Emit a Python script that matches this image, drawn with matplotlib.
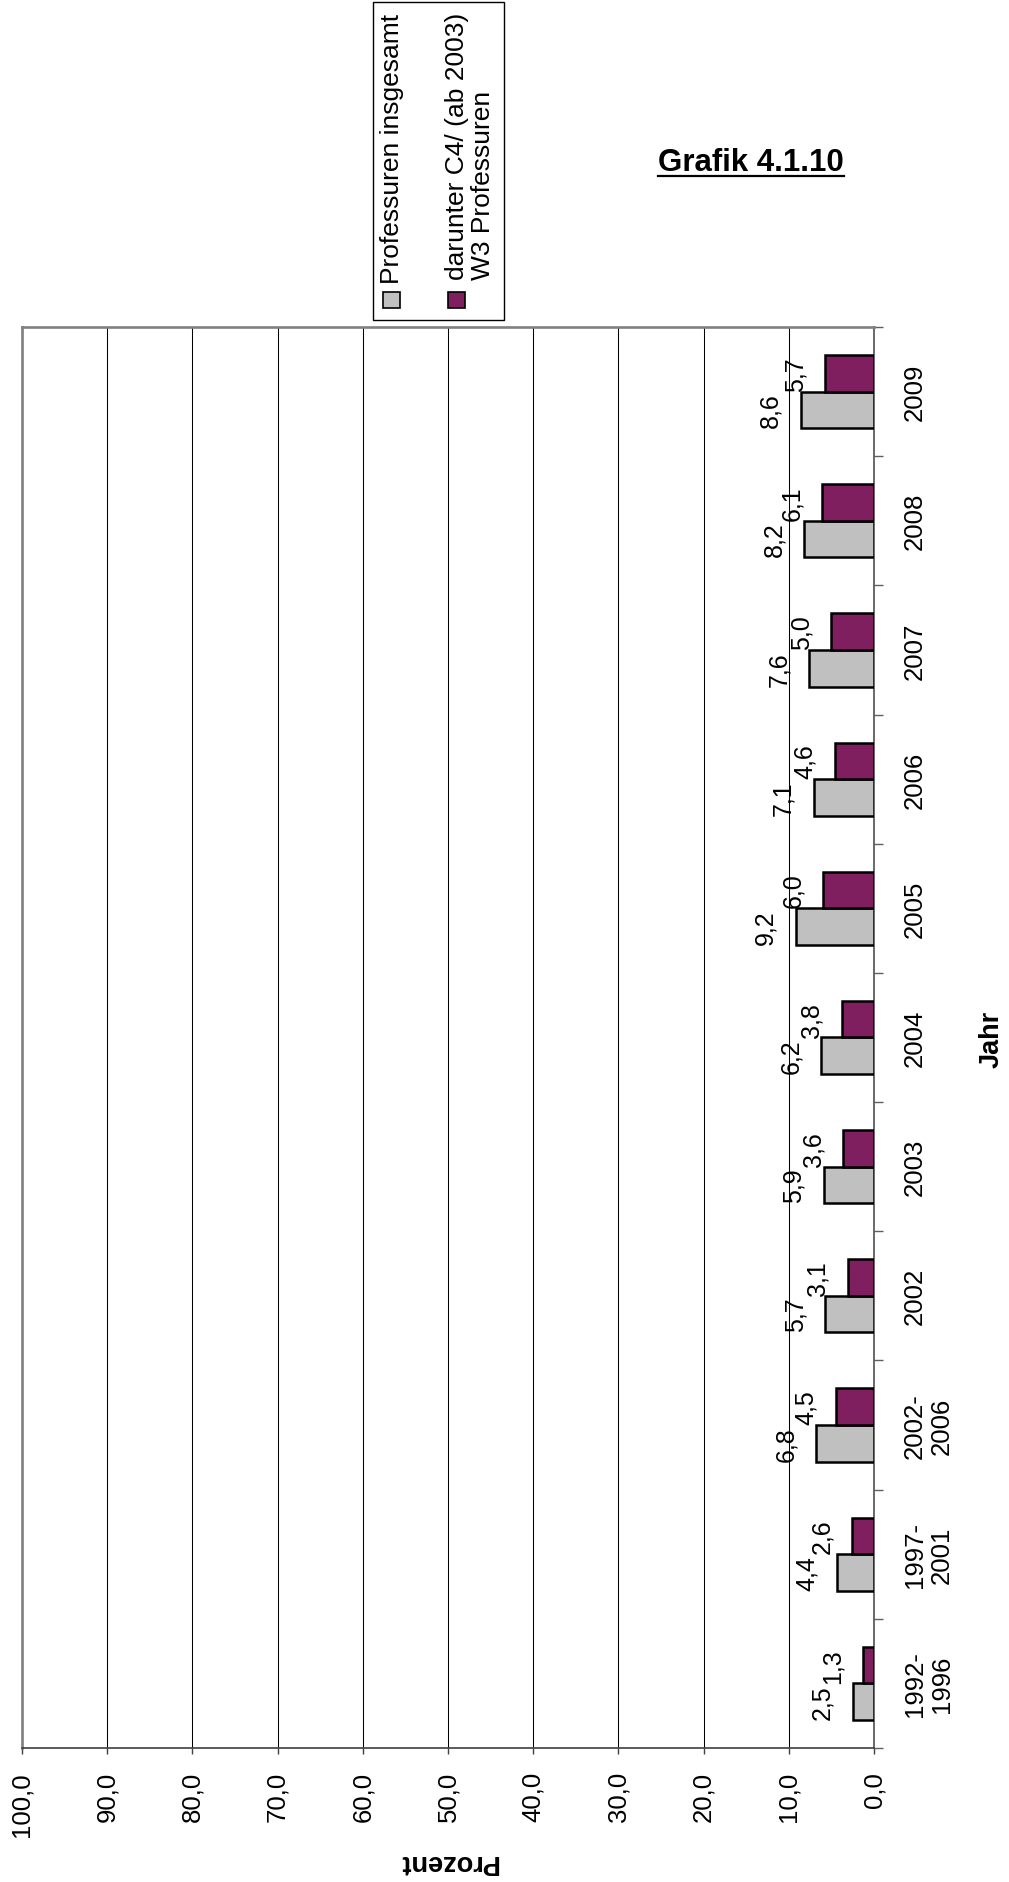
import matplotlib
matplotlib.use("Agg")
import matplotlib.pyplot as plt
import numpy as np
from matplotlib.patches import Rectangle
from matplotlib.lines import Line2D
from matplotlib.ticker import FixedLocator

plt.rcParams['font.family'] = ['Liberation Sans', 'DejaVu Sans']

categories = ["1992-\n1996", "1997-\n2001", "2002-\n2006", "2002", "2003", "2004",
              "2005", "2006", "2007", "2008", "2009"]
total = [2.5, 4.4, 6.8, 5.7, 5.9, 6.2, 9.2, 7.1, 7.6, 8.2, 8.6]
c4w3 = [1.3, 2.6, 4.5, 3.1, 3.6, 3.8, 6.0, 4.6, 5.0, 6.1, 5.7]
value_ticks = [0, 10, 20, 30, 40, 50, 60, 70, 80, 90, 100]
series_names = ["Professuren insgesamt", "darunter C4/ (ab 2003)\nW3 Professuren"]

GRAY = "#C0C0C0"
PURPLE = "#7F1F5F"

W, H = 1009, 1883
fig = plt.figure(figsize=(W / 100, H / 100), dpi=100)

def fx(px):
    return px / W

def fy(py):
    return 1 - py / H

ax = fig.add_axes([fx(22), fy(1749), fx(874) - fx(22), fy(328) - fy(1749)])

y = np.arange(len(categories))
bh = 0.283
ax.barh(y - bh / 2, total, height=bh, color=GRAY, edgecolor="black", linewidth=1.8, zorder=3)
ax.barh(y + bh / 2, c4w3, height=bh, color=PURPLE, edgecolor="black", linewidth=1.8, zorder=3)

ax.set_xlim(100, 0)
ax.set_ylim(-0.5, len(categories) - 0.5)

# value labels
def fmt(v):
    return f"{v:.1f}".replace(".", ",")

for yi, v in zip(y - bh / 2, total):
    ax.annotate(fmt(v), xy=(v, yi), xytext=(-13, 0), textcoords="offset points",
                ha="right", va="center", rotation=90, fontsize=18, zorder=4)
for yi, v in zip(y + bh / 2, c4w3):
    ax.annotate(fmt(v), xy=(v, yi), xytext=(-13, 0), textcoords="offset points",
                ha="right", va="center", rotation=90, fontsize=18, zorder=4)

# value axis (bottom)
ax.set_xticks(value_ticks)
ax.set_xticklabels([fmt(v) for v in value_ticks], rotation=90, fontsize=18.5)
ax.tick_params(axis="x", direction="out", length=4.5, width=1, color="#404040", pad=12)
for lab in ax.get_xticklabels():
    lab.set_va("top")
    lab.set_ha("center")
ax.xaxis.grid(True, color="black", linewidth=0.75)
ax.set_axisbelow(True)

# category axis (right)
ax.yaxis.tick_right()
ax.yaxis.set_major_locator(FixedLocator(np.arange(-0.5, len(categories), 1.0)))
ax.set_yticklabels([])
ax.yaxis.set_minor_locator(FixedLocator(y))
ax.set_yticklabels(categories, minor=True, fontsize=18.5)
ax.tick_params(axis="y", which="major", direction="out", length=6.5, width=1, color="#606060",
               right=True, left=False)
ax.tick_params(axis="y", which="minor", length=0, pad=21, right=True, left=False)
for lab in ax.get_yticklabels(minor=True):
    lab.set_rotation(90)
    lab.set_va("center")
    lab.set_ha("left")
    lab.set_multialignment("center")
    lab.set_linespacing(1.15)

# spines
ax.spines["left"].set_color("#808080")
ax.spines["left"].set_linewidth(1.9)
ax.spines["top"].set_color("#808080")
ax.spines["top"].set_linewidth(1.9)
ax.spines["right"].set_color("#505050")
ax.spines["right"].set_linewidth(1.2)
ax.spines["bottom"].set_color("#404040")
ax.spines["bottom"].set_linewidth(1.2)

# axis titles
fig.text(fx(448), fy(1862), "Prozent", rotation=180, fontsize=19.5, fontweight="bold",
         ha="center", va="center")
fig.text(fx(992), fy(1039), "Jahr", rotation=90, fontsize=19.5, fontweight="bold",
         ha="center", va="center")

# legend (drawn rotated like the chart)
fig.patches.append(Rectangle((fx(373), fy(321)), fx(504) - fx(373), fy(3) - fy(321),
                             transform=fig.transFigure, facecolor="white",
                             edgecolor="black", linewidth=1.0))
fig.patches.append(Rectangle((fx(383), fy(309)), fx(400) - fx(383), fy(293) - fy(309),
                             transform=fig.transFigure, facecolor=GRAY,
                             edgecolor="black", linewidth=1.2))
fig.patches.append(Rectangle((fx(448), fy(309)), fx(465) - fx(448), fy(293) - fy(309),
                             transform=fig.transFigure, facecolor=PURPLE,
                             edgecolor="black", linewidth=1.2))
fig.text(fx(380), fy(284), series_names[0], rotation=90, fontsize=19,
         ha="left", va="bottom")
fig.text(fx(445), fy(280), series_names[1], rotation=90, fontsize=19,
         ha="left", va="bottom", multialignment="left", linespacing=1.1)

# title with underline
title = fig.text(fx(658), fy(171), "Grafik 4.1.10", fontsize=22.5, fontweight="bold",
                 ha="left", va="baseline")
renderer = fig.canvas.get_renderer()
bb = title.get_window_extent(renderer=renderer)
fig.lines.append(Line2D([bb.x0 / W, bb.x1 / W], [fy(177), fy(177)],
                        transform=fig.transFigure, color="black", linewidth=1.6))

fig.savefig("out.png", dpi=100)
